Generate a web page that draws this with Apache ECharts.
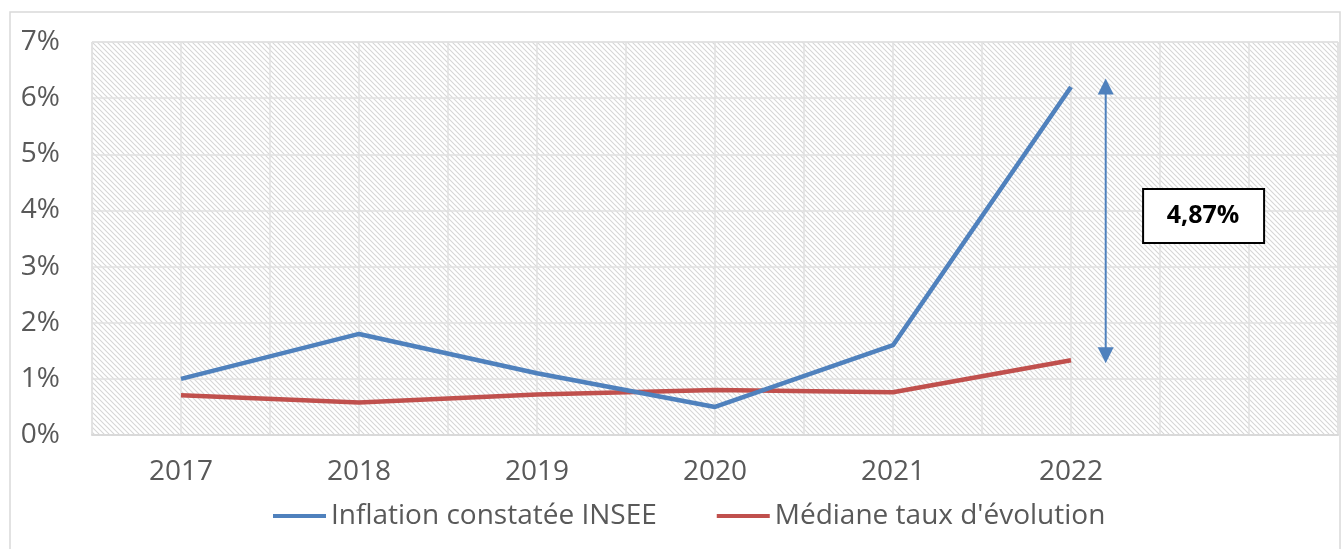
<!DOCTYPE html>
<html>
<head>
<meta charset="utf-8">
<script src="https://cdn.jsdelivr.net/npm/echarts@6/dist/echarts.min.js"></script>
<style>
  html, body { margin: 0; padding: 0; background: #fff; }
  #container { width: 1342px; height: 549px; }
</style>
</head>
<body>
<div id="container"></div>
<script>
var dom = document.getElementById('container');
var myChart = echarts.init(dom, null, { renderer: 'canvas' });

// donnees
var years = ['2017', '2018', '2019', '2020', '2021', '2022', ''];
var inflation = [1.0, 1.8, 1.1, 0.5, 1.6, 6.2];
var mediane = [0.71, 0.58, 0.72, 0.80, 0.76, 1.33];
var halfTicks = ['', '', '', '', '', '', '', '', '', '', '', '', '', ''];
var ecartLabel = '4,87%';
var ecartTop = 6.35, ecartBottom = 1.28;

var font = "'Open Sans', 'Noto Sans', sans-serif";
var blue = '#4F81BD';
var red = '#C0504D';

// motif hachure du fond
function hatch() {
    var c = document.createElement('canvas');
    c.width = 5; c.height = 5;
    var ctx = c.getContext('2d');
    ctx.fillStyle = '#ffffff';
    ctx.fillRect(0, 0, 5, 5);
    ctx.strokeStyle = '#d6d6d6';
    ctx.lineWidth = 1.1;
    ctx.beginPath();
    ctx.moveTo(-1, -1); ctx.lineTo(6, 6);
    ctx.moveTo(-4, 1); ctx.lineTo(4, 9);
    ctx.moveTo(1, -4); ctx.lineTo(9, 4);
    ctx.stroke();
    return c;
}

var option = {
    animation: false,
    backgroundColor: '#fff',
    grid: {
        left: 92, top: 42, right: 4, bottom: 114,
        show: true,
        backgroundColor: { image: hatch(), repeat: 'repeat' },
        borderColor: '#d9d9d9',
        borderWidth: 1
    },
    legend: {
        bottom: 14,
        left: 268,
        icon: 'rect',
        itemWidth: 53,
        itemHeight: 4,
        itemGap: 60,
        textStyle: { fontFamily: font, fontSize: 28, color: '#595959', padding: [0, 0, 0, 0] },
        data: ['Inflation constatée INSEE', "Médiane taux d'évolution"]
    },
    xAxis: [{
        type: 'category',
        data: years,
        boundaryGap: true,
        axisLine: { lineStyle: { color: '#d9d9d9', width: 2 } },
        axisTick: { show: false },
        splitLine: { show: false },
        axisLabel: { fontFamily: font, fontSize: 28, color: '#595959', margin: 23 }
    }, {
        type: 'category',
        data: halfTicks,
        position: 'bottom',
        boundaryGap: true,
        axisLine: { show: false },
        axisTick: { show: false },
        axisLabel: { show: false },
        splitLine: { show: true, interval: 0, lineStyle: { color: '#e0e0e0', width: 1.5 } }
    }],
    yAxis: {
        type: 'value',
        min: 0, max: 7, interval: 1,
        axisLine: { show: false },
        axisTick: { show: false },
        axisLabel: { formatter: '{value}%', fontFamily: font, fontSize: 28, color: '#595959', margin: 32 },
        splitLine: { lineStyle: { color: '#e0e0e0', width: 1.5 } }
    },
    series: [{
        name: 'Inflation constatée INSEE',
        type: 'line',
        data: inflation,
        showSymbol: false,
        lineStyle: { color: blue, width: 4.5 },
        itemStyle: { color: blue },
        z: 3
    }, {
        name: "Médiane taux d'évolution",
        type: 'line',
        data: mediane,
        showSymbol: false,
        lineStyle: { color: red, width: 4.5 },
        itemStyle: { color: red },
        z: 2
    }]
};

myChart.setOption(option);

// fleche et etiquette de l'ecart
var x5 = myChart.convertToPixel({ xAxisIndex: 0 }, years[5]);
var x6 = myChart.convertToPixel({ xAxisIndex: 0 }, 6);
var ax = x5 + (x6 - x5) * 0.195;
var yTop = myChart.convertToPixel({ yAxisIndex: 0 }, ecartTop);
var yBot = myChart.convertToPixel({ yAxisIndex: 0 }, ecartBottom);
var yMid = myChart.convertToPixel({ yAxisIndex: 0 }, 3.9);
var bx = x5 + (x6 - x5) * 0.405;

myChart.setOption({
    graphic: [{
        type: 'rect',
        shape: { x: 10, y: 12, width: 1330, height: 600 },
        style: { fill: null, stroke: '#d9d9d9', lineWidth: 1.5 },
        silent: true, z: -10
    }, {
        type: 'line',
        shape: { x1: ax, y1: yTop + 12, x2: ax, y2: yBot - 12 },
        style: { stroke: blue, lineWidth: 2 },
        z: 10
    }, {
        type: 'polygon',
        shape: { points: [[ax, yTop], [ax - 8, yTop + 16], [ax + 8, yTop + 16]] },
        style: { fill: blue },
        z: 10
    }, {
        type: 'polygon',
        shape: { points: [[ax, yBot], [ax - 8, yBot - 16], [ax + 8, yBot - 16]] },
        style: { fill: blue },
        z: 10
    }, {
        type: 'rect',
        shape: { x: bx, y: yMid - 27, width: 121, height: 54 },
        style: { fill: '#fff', stroke: '#000', lineWidth: 2 },
        z: 10
    }, {
        type: 'text',
        x: bx + 60, y: yMid,
        style: {
            text: ecartLabel, fontFamily: font, fontWeight: 'bold', fontSize: 25,
            fill: '#000', align: 'center', verticalAlign: 'middle'
        },
        z: 11
    }]
});
</script>
</body>
</html>
